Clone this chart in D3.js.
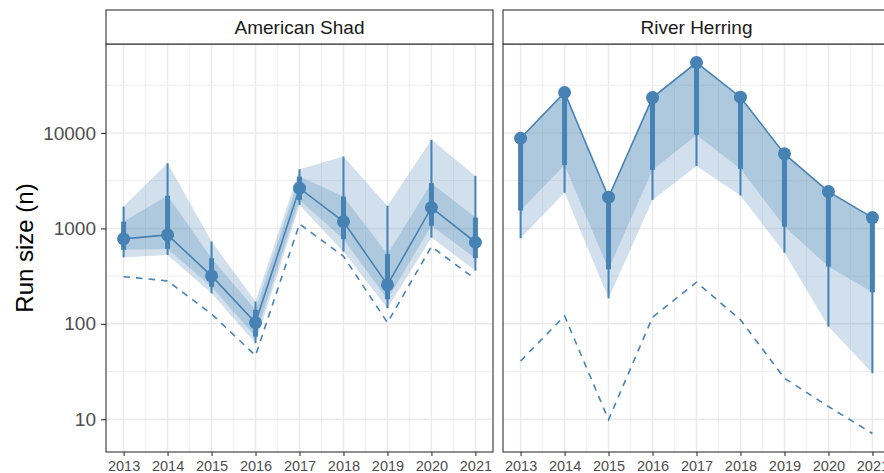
<!DOCTYPE html>
<html>
<head>
<meta charset="utf-8">
<script src="https://cdn.jsdelivr.net/npm/d3@7"></script>
<style>
  html, body { margin: 0; padding: 0; background: #ffffff; }
  svg { display: block; font-family: "Liberation Sans", Arial, Helvetica, sans-serif; }
</style>
</head>
<body>
<svg id="chart" width="884" height="473"></svg>
<script>
// Estimated run sizes by year, with 66% and 95% credible intervals and the minimum count.
const years = [2013, 2014, 2015, 2016, 2017, 2018, 2019, 2020, 2021];
const panelTitles = ["American Shad", "River Herring"];
const yTicks = [10, 100, 1000, 10000];

const shadMedian = [776, 855, 318, 103, 2637, 1178, 256, 1652, 716];
const shadLo66   = [596, 610, 245, 73.5, 1990, 771, 181, 1069, 487];
const shadHi66   = [1178, 2193, 487, 140, 3490, 2155, 540, 2980, 1297];
const shadLo95   = [499, 527, 209, 62.7, 1763, 571, 146, 801, 361];
const shadHi95   = [1693, 4820, 728, 171, 4170, 5660, 1722, 8470, 3550];
const shadCount  = [312, 282, 127, 46.5, 1114, 510, 103, 644, 294];

const herringMedian = [8810, 26540, 2123, 23500, 54700, 23700, 6040, 2430, 1297];
const herringLo66   = [1538, 4630, 373, 4100, 9550, 4210, 1045, 398, 214];
const herringHi66   = [8810, 26540, 2123, 23500, 54700, 23700, 6040, 2430, 1297];
const herringLo95   = [789, 2371, 185, 1990, 4520, 2210, 557, 93.5, 30.3];
const herringHi95   = [8810, 26540, 2123, 23500, 54700, 23700, 6040, 2430, 1297];
const herringCount  = [40.8, 121, 9.9, 117, 273, 110, 26.9, 13.6, 7.1];

const panels = [
  { title: panelTitles[0], median: shadMedian, lo66: shadLo66, hi66: shadHi66, lo95: shadLo95, hi95: shadHi95, count: shadCount },
  { title: panelTitles[1], median: herringMedian, lo66: herringLo66, hi66: herringHi66, lo95: herringLo95, hi95: herringHi95, count: herringCount }
];

const blue = "steelblue";
const svg = d3.select("#chart");

const panelW = 387, gap = 10;
const left0 = 106, stripTop = 10, stripH = 34;
const plotTop = stripTop + stripH, plotBottom = 452;

// Shared log scale with 5% expansion of the data range (in log space)
const allVals = panels.flatMap(p => [...p.median, ...p.lo66, ...p.hi66, ...p.lo95, ...p.hi95, ...p.count]);
const lmin = Math.log10(d3.min(allVals)), lmax = Math.log10(d3.max(allVals));
const pad = (lmax - lmin) * 0.05;
const y = d3.scaleLog()
  .domain([Math.pow(10, lmin - pad), Math.pow(10, lmax + pad)])
  .range([plotBottom, plotTop]);

const xPad = (years[years.length - 1] - years[0]) * 0.05;
const yMinor = [1.5, 2.5, 3.5, 4.5].map(e => Math.pow(10, e))
  .filter(v => v >= y.domain()[0] && v <= y.domain()[1]);
const xMinor = d3.range(years[0] + 0.5, years[years.length - 1], 1);

panels.forEach((p, i) => {
  const x0 = left0 + i * (panelW + gap);
  const x = d3.scaleLinear()
    .domain([years[0] - xPad, years[years.length - 1] + xPad])
    .range([x0, x0 + panelW]);

  const g = svg.append("g");
  const clipId = "clip" + i;
  svg.append("clipPath").attr("id", clipId)
    .append("rect").attr("x", x0).attr("y", plotTop).attr("width", panelW).attr("height", plotBottom - plotTop);

  // Grid
  const grid = g.append("g");
  grid.selectAll(".ymin").data(yMinor).join("line")
    .attr("x1", x0).attr("x2", x0 + panelW).attr("y1", d => y(d)).attr("y2", d => y(d))
    .attr("stroke", "#ebebeb").attr("stroke-width", 0.8);
  grid.selectAll(".xmin").data(xMinor).join("line")
    .attr("x1", d => x(d)).attr("x2", d => x(d)).attr("y1", plotTop).attr("y2", plotBottom)
    .attr("stroke", "#ebebeb").attr("stroke-width", 0.8);
  grid.selectAll(".ymaj").data(yTicks).join("line")
    .attr("x1", x0).attr("x2", x0 + panelW).attr("y1", d => y(d)).attr("y2", d => y(d))
    .attr("stroke", "#ebebeb").attr("stroke-width", 1.5);
  grid.selectAll(".xmaj").data(years).join("line")
    .attr("x1", d => x(d)).attr("x2", d => x(d)).attr("y1", plotTop).attr("y2", plotBottom)
    .attr("stroke", "#ebebeb").attr("stroke-width", 1.5);

  const body = g.append("g").attr("clip-path", `url(#${clipId})`);
  const idx = d3.range(years.length);

  // Credible-interval ribbons
  const area = (lo, hi) => d3.area().x(j => x(years[j])).y0(j => y(lo[j])).y1(j => y(hi[j]));
  body.append("path").attr("d", area(p.lo95, p.hi95)(idx))
    .attr("fill", blue).attr("fill-opacity", 0.25);
  body.append("path").attr("d", area(p.lo66, p.hi66)(idx))
    .attr("fill", blue).attr("fill-opacity", 0.25);

  // Minimum count (dashed)
  const line = vals => d3.line().x(j => x(years[j])).y(j => y(vals[j]));
  body.append("path").attr("d", line(p.count)(idx))
    .attr("fill", "none").attr("stroke", blue).attr("stroke-width", 1.6)
    .attr("stroke-dasharray", "6.5,6");

  // Median line
  body.append("path").attr("d", line(p.median)(idx))
    .attr("fill", "none").attr("stroke", blue).attr("stroke-width", 1.6);

  // Point intervals
  body.selectAll(".thin").data(idx).join("line")
    .attr("x1", j => x(years[j])).attr("x2", j => x(years[j]))
    .attr("y1", j => y(p.lo95[j])).attr("y2", j => y(p.hi95[j]))
    .attr("stroke", blue).attr("stroke-width", 2);
  body.selectAll(".thick").data(idx).join("line")
    .attr("x1", j => x(years[j])).attr("x2", j => x(years[j]))
    .attr("y1", j => y(p.lo66[j])).attr("y2", j => y(p.hi66[j]))
    .attr("stroke", blue).attr("stroke-width", 5);
  body.selectAll(".pt").data(idx).join("circle")
    .attr("cx", j => x(years[j])).attr("cy", j => y(p.median[j])).attr("r", 6.5)
    .attr("fill", blue);

  // Panel border
  g.append("rect").attr("x", x0).attr("y", plotTop).attr("width", panelW).attr("height", plotBottom - plotTop)
    .attr("fill", "none").attr("stroke", "#333333").attr("stroke-width", 1.1);

  // Strip
  g.append("rect").attr("x", x0).attr("y", stripTop).attr("width", panelW).attr("height", stripH)
    .attr("fill", "#ffffff").attr("stroke", "#333333").attr("stroke-width", 1.1);
  g.append("text").attr("x", x0 + panelW / 2).attr("y", stripTop + stripH / 2 + 6.5)
    .attr("text-anchor", "middle").attr("font-size", 19).attr("fill", "#1a1a1a").text(p.title);

  // X axis
  const xAxis = g.append("g").attr("transform", `translate(0,${plotBottom})`)
    .call(d3.axisBottom(x).tickValues(years).tickFormat(d3.format("d")).tickSize(4).tickPadding(5));
  xAxis.select(".domain").remove();
  xAxis.selectAll(".tick line").attr("stroke", "#333333").attr("stroke-width", 1.1);
  xAxis.selectAll(".tick text").attr("font-size", 14.5).attr("fill", "#4d4d4d")
    .attr("font-family", "'Liberation Sans', Arial, sans-serif");

  // Y axis (first panel only)
  if (i === 0) {
    const yAxis = g.append("g").attr("transform", `translate(${x0},0)`)
      .call(d3.axisLeft(y).tickValues(yTicks).tickFormat(d3.format("d")).tickSize(5).tickPadding(5));
    yAxis.select(".domain").remove();
    yAxis.selectAll(".tick line").attr("stroke", "#333333").attr("stroke-width", 1.1);
    yAxis.selectAll(".tick text").attr("font-size", 19).attr("fill", "#4d4d4d")
      .attr("font-family", "'Liberation Sans', Arial, sans-serif");
  }
});

// Y axis title
svg.append("text")
  .attr("transform", `translate(33,${(plotTop + plotBottom) / 2}) rotate(-90)`)
  .attr("text-anchor", "middle").attr("font-size", 24).attr("fill", "#000000")
  .text("Run size (n)");
</script>
</body>
</html>
